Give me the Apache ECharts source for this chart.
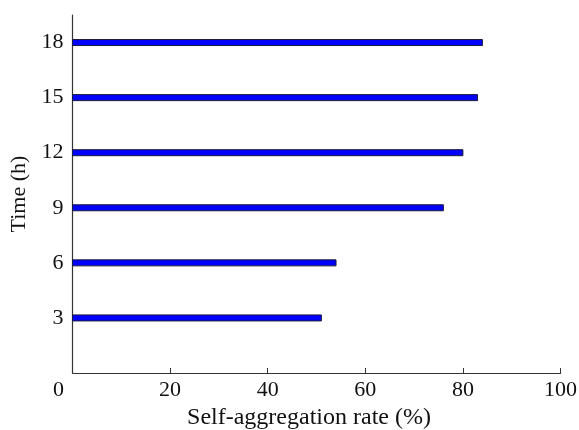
<!DOCTYPE html>
<html>
<head>
<meta charset="utf-8">
<script src="https://cdn.jsdelivr.net/npm/echarts@6/dist/echarts.min.js"></script>
<style>html,body{margin:0;padding:0;background:#fff;}#c{width:579px;height:430px;}</style>
</head>
<body>
<div id="c"></div>
<script>
const times = [3, 6, 9, 12, 15, 18];
const rates = [51, 54, 76, 80, 83, 84];
const xTicks = [0, 20, 40, 60, 80, 100];

const chart = echarts.init(document.getElementById('c'), null, {renderer: 'canvas'});
const font = 'Liberation Serif';
const data = times.map((t, i) => [rates[i], t]);

chart.setOption({
  backgroundColor: '#ffffff',
  animation: false,
  grid: {left: 72.5, right: 18.5, top: 15, bottom: 57, containLabel: false, outerBoundsMode: 'none'},
  xAxis: {
    type: 'value', min: 0, max: 100, interval: 20,
    splitLine: {show: false},
    axisLine: {show: true, lineStyle: {color: '#333', width: 1.2}},
    axisTick: {show: true, inside: true, length: 5, lineStyle: {color: '#333'}},
    axisLabel: {
      color: '#111', fontFamily: font, fontSize: 22, margin: 6,
      hideOverlap: false,
      formatter: v => v === 0 ? '{z|0}' : String(v),
      rich: {z: {fontFamily: font, fontSize: 22, color: '#111', padding: [0, 28, 0, 0]}}
    },
    name: 'Self-aggregation rate (%)',
    nameLocation: 'middle', nameGap: 33,
    nameTextStyle: {color: '#111', fontFamily: font, fontSize: 24, padding: [0, 15, 0, 0]}
  },
  yAxis: {
    type: 'value', min: 0, max: 19.5, interval: 3,
    splitLine: {show: false},
    axisLine: {show: true, lineStyle: {color: '#333', width: 1.2}},
    axisTick: {show: false},
    axisLabel: {
      color: '#111', fontFamily: font, fontSize: 22, margin: 9,
      showMaxLabel: false,
      formatter: v => (times.indexOf(v) >= 0 ? String(v) : '')
    },
    name: 'Time (h)',
    nameLocation: 'middle', nameGap: 39, nameRotate: 90,
    nameTextStyle: {color: '#111', fontFamily: font, fontSize: 22}
  },
  series: [{
    type: 'custom',
    data: data,
    encode: {x: 0, y: 1},
    renderItem: function (params, api) {
      const y = api.value(1);
      const start = api.coord([0, y]);
      const end = api.coord([api.value(0), y]);
      const h = 6;
      return {
        type: 'rect',
        shape: {x: start[0], y: start[1] - h / 2, width: end[0] - start[0], height: h},
        style: {fill: '#0000ff', stroke: '#1a1a3a', lineWidth: 1}
      };
    }
  }]
});
</script>
</body>
</html>
